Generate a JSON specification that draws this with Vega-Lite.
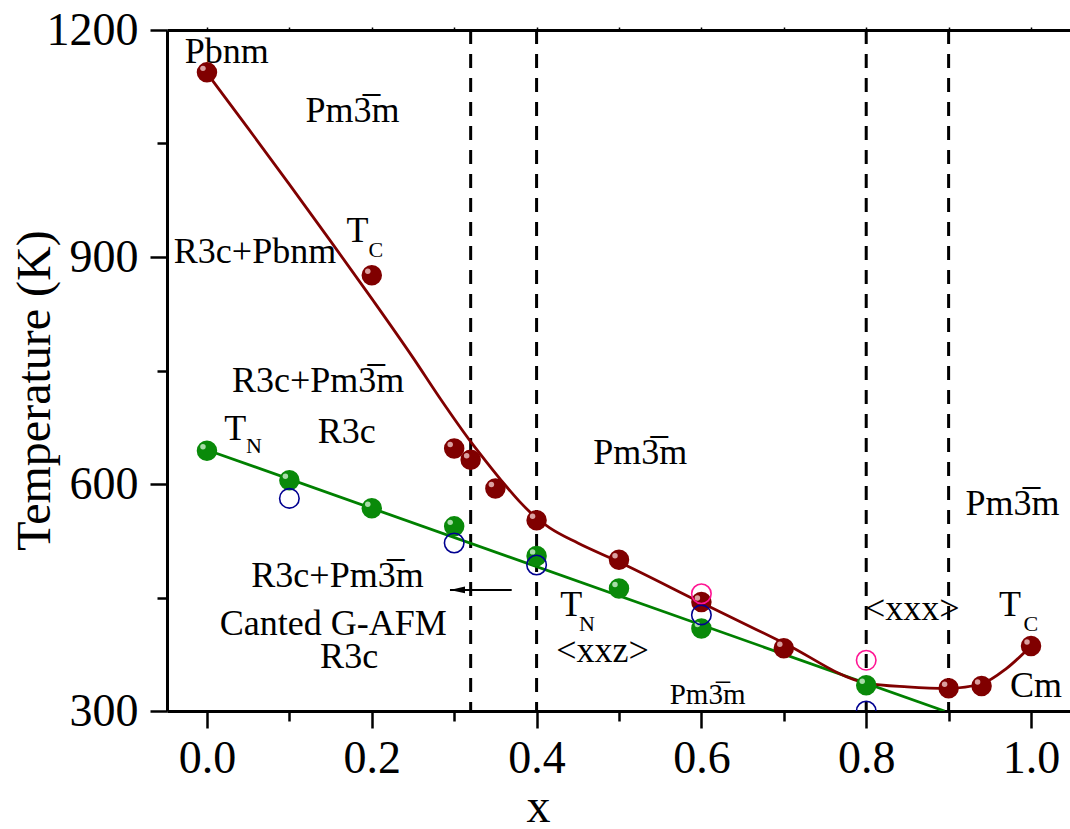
{
  "$schema": "https://vega.github.io/schema/vega-lite/v6.json",
  "width": 903,
  "height": 681,
  "autosize": {"type": "none"},
  "padding": {"left": 167, "top": 30, "right": 0, "bottom": 118},
  "background": "white",
  "config": {
    "view": {"stroke": null},
    "font": "Liberation Serif",
    "style": {"guide-title": {"font": "Liberation Serif", "fontWeight": "normal"}, "guide-label": {"font": "Liberation Serif"}},
    "axis": {"grid": false, "domainColor": "black", "tickColor": "black", "labelColor": "black", "titleColor": "black", "labelFont": "Liberation Serif", "titleFont": "Liberation Serif", "titleFontWeight": "normal", "domainWidth": 3, "tickWidth": 2.5, "labelFlush": false, "labelOverlap": false}
  },
  "datasets": {
    "vlines": [{"x": 0.32}, {"x": 0.4}, {"x": 0.8}, {"x": 0.9}],
    "tnline": [{"x": 0, "T": 645}, {"x": 0.895, "T": 300}],
    "tccurve": [
      {"x": 0, "T": 1143}, {"x": 0.05, "T": 1070}, {"x": 0.1, "T": 996}, {"x": 0.15, "T": 921}, {"x": 0.2, "T": 845},
      {"x": 0.25, "T": 767}, {"x": 0.283, "T": 713}, {"x": 0.32, "T": 656}, {"x": 0.34, "T": 628}, {"x": 0.36, "T": 601},
      {"x": 0.38, "T": 576}, {"x": 0.4, "T": 555}, {"x": 0.416, "T": 542}, {"x": 0.45, "T": 522}, {"x": 0.5, "T": 497},
      {"x": 0.6, "T": 443}, {"x": 0.7, "T": 390}, {"x": 0.8, "T": 337}, {"x": 0.85, "T": 332}, {"x": 0.9, "T": 330},
      {"x": 0.94, "T": 336}, {"x": 0.97, "T": 356}, {"x": 1.0, "T": 386}
    ],
    "tc": [
      {"x": 0, "T": 1144}, {"x": 0.2, "T": 876}, {"x": 0.3, "T": 647}, {"x": 0.32, "T": 632}, {"x": 0.35, "T": 594},
      {"x": 0.4, "T": 552}, {"x": 0.5, "T": 500}, {"x": 0.6, "T": 444}, {"x": 0.7, "T": 383}, {"x": 0.9, "T": 330},
      {"x": 0.94, "T": 333}, {"x": 1.0, "T": 386}
    ],
    "tn": [
      {"x": 0, "T": 644}, {"x": 0.1, "T": 605}, {"x": 0.2, "T": 568}, {"x": 0.3, "T": 544}, {"x": 0.4, "T": 505},
      {"x": 0.5, "T": 462}, {"x": 0.6, "T": 409}, {"x": 0.8, "T": 334}
    ],
    "blue": [{"x": 0.1, "T": 581}, {"x": 0.3, "T": 522}, {"x": 0.4, "T": 493}, {"x": 0.6, "T": 427}, {"x": 0.8, "T": 300}],
    "pink": [{"x": 0.6, "T": 455}, {"x": 0.8, "T": 367}],
    "arrow": [{"x": 0.2949, "x2": 0.3698, "T": 460}],
    "arrowhead": [{"x": 0.304, "T": 460}],
    "bigtext": [
      {"x": 0.024, "T": 1157, "text": "Pbnm"},
      {"x": 0.1766, "T": 1079, "text": "Pm3\u0305m"},
      {"x": 0.0583, "T": 892, "text": "R3c+Pbnm"},
      {"x": 0.1826, "T": 920, "text": "T"},
      {"x": 0.135, "T": 722, "text": "R3c+Pm3\u0305m"},
      {"x": 0.0344, "T": 658, "text": "T"},
      {"x": 0.1695, "T": 654, "text": "R3c"},
      {"x": 0.1584, "T": 464, "text": "R3c+Pm3\u0305m"},
      {"x": 0.1533, "T": 400.5, "text": "Canted G-AFM"},
      {"x": 0.1725, "T": 356.5, "text": "R3c"},
      {"x": 0.5257, "T": 627, "text": "Pm3\u0305m"},
      {"x": 0.442, "T": 425, "text": "T"},
      {"x": 0.48, "T": 365, "text": "<xxz>"},
      {"x": 0.856, "T": 420, "text": "<xxx>"},
      {"x": 0.9775, "T": 559, "text": "Pm3\u0305m"},
      {"x": 0.9745, "T": 426, "text": "T"},
      {"x": 1.006, "T": 319, "text": "Cm"}
    ],
    "subtext": [
      {"x": 0.2049, "T": 900, "text": "C"},
      {"x": 0.057, "T": 641, "text": "N"},
      {"x": 0.461, "T": 406, "text": "N"},
      {"x": 0.9998, "T": 406, "text": "C"}
    ],
    "smalltext": [{"x": 0.6075, "T": 309, "text": "Pm3\u0305m"}]
  },
  "resolve": {"axis": {"x": "independent", "y": "independent"}},
  "layer": [
    {
      "data": {"name": "vlines"},
      "mark": {"type": "rule", "color": "black", "strokeWidth": 3, "strokeDash": [14, 10]},
      "encoding": {
        "x": {"field": "x", "type": "quantitative", "scale": {"domain": [-0.0485, 1.0473], "nice": false, "zero": false}, "axis": null}
      }
    },
    {
      "data": {"name": "tnline"},
      "mark": {"type": "line", "color": "#008000", "strokeWidth": 2.8, "clip": true},
      "encoding": {
        "x": {"field": "x", "type": "quantitative", "scale": {"domain": [-0.0485, 1.0473], "nice": false, "zero": false},
              "axis": {"orient": "top", "values": [0, 0.1, 0.2, 0.3, 0.4, 0.5, 0.6, 0.7, 0.8, 0.9, 1.0], "tickSize": 3, "tickWidth": 1.5, "labels": false, "title": null}},
        "y": {"field": "T", "type": "quantitative", "scale": {"domain": [300, 1200], "nice": false, "zero": false}, "axis": null}
      }
    },
    {
      "data": {"name": "tccurve"},
      "mark": {"type": "line", "color": "#800000", "strokeWidth": 2.8, "interpolate": "monotone"},
      "encoding": {
        "x": {"field": "x", "type": "quantitative", "scale": {"domain": [-0.0485, 1.0473], "nice": false, "zero": false},
              "axis": {"orient": "bottom", "values": [0.1, 0.3, 0.5, 0.7, 0.9], "tickSize": 10, "labels": false, "domain": false, "title": null}},
        "y": {"field": "T", "type": "quantitative", "scale": {"domain": [300, 1200], "nice": false, "zero": false},
              "axis": {"orient": "left", "values": [450, 750, 1050], "tickSize": 10, "labels": false, "domain": false, "title": null}}
      }
    },
    {
      "data": {"name": "tc"},
      "mark": {"type": "point", "shape": "circle", "filled": true, "size": 420, "color": "#800000", "opacity": 1},
      "encoding": {
        "x": {"field": "x", "type": "quantitative", "scale": {"domain": [-0.0485, 1.0473], "nice": false, "zero": false},
              "axis": {"orient": "bottom", "values": [0, 0.2, 0.4, 0.6, 0.8, 1.0], "format": ".1f", "tickSize": 17, "labelFont": "Liberation Serif", "labelFontSize": 46, "labelPadding": 8,
                       "title": "x", "titleFont": "Liberation Serif", "titleFontWeight": "normal", "titleFontSize": 48, "titleX": 371, "titleY": 110, "titleBaseline": "alphabetic", "titleAlign": "center"}},
        "y": {"field": "T", "type": "quantitative", "scale": {"domain": [300, 1200], "nice": false, "zero": false},
              "axis": {"orient": "left", "values": [300, 600, 900, 1200], "format": "d", "tickSize": 17, "labelFont": "Liberation Serif", "labelFontSize": 46, "labelPadding": 12,
                       "title": "Temperature (K)", "titleFont": "Liberation Serif", "titleFontWeight": "normal", "titleFontSize": 48, "titleAngle": -90, "titleX": -132, "titleY": 360, "titleAlign": "center", "titleBaseline": "middle"}}
      }
    },
    {
      "data": {"name": "tn"},
      "mark": {"type": "point", "shape": "circle", "filled": true, "size": 420, "color": "#0a8a0a", "opacity": 1},
      "encoding": {
        "x": {"field": "x", "type": "quantitative", "scale": {"domain": [-0.0485, 1.0473], "nice": false, "zero": false}, "axis": null},
        "y": {"field": "T", "type": "quantitative", "scale": {"domain": [300, 1200], "nice": false, "zero": false}, "axis": null}
      }
    },
    {
      "data": {"name": "tc"},
      "mark": {"type": "point", "shape": "circle", "filled": true, "size": 30, "color": "#f0c8c8", "opacity": 0.8, "xOffset": -4, "yOffset": -4},
      "encoding": {
        "x": {"field": "x", "type": "quantitative", "scale": {"domain": [-0.0485, 1.0473], "nice": false, "zero": false}, "axis": null},
        "y": {"field": "T", "type": "quantitative", "scale": {"domain": [300, 1200], "nice": false, "zero": false}, "axis": null}
      }
    },
    {
      "data": {"name": "tn"},
      "mark": {"type": "point", "shape": "circle", "filled": true, "size": 30, "color": "#d0f0d0", "opacity": 0.8, "xOffset": -4, "yOffset": -4},
      "encoding": {
        "x": {"field": "x", "type": "quantitative", "scale": {"domain": [-0.0485, 1.0473], "nice": false, "zero": false}, "axis": null},
        "y": {"field": "T", "type": "quantitative", "scale": {"domain": [300, 1200], "nice": false, "zero": false}, "axis": null}
      }
    },
    {
      "data": {"name": "blue"},
      "mark": {"type": "point", "shape": "circle", "filled": false, "size": 380, "color": "#000090", "strokeWidth": 1.6, "opacity": 1, "clip": true},
      "encoding": {
        "x": {"field": "x", "type": "quantitative", "scale": {"domain": [-0.0485, 1.0473], "nice": false, "zero": false}, "axis": null},
        "y": {"field": "T", "type": "quantitative", "scale": {"domain": [300, 1200], "nice": false, "zero": false}, "axis": null}
      }
    },
    {
      "data": {"name": "pink"},
      "mark": {"type": "point", "shape": "circle", "filled": false, "size": 380, "color": "#ff1493", "strokeWidth": 1.6, "opacity": 1},
      "encoding": {
        "x": {"field": "x", "type": "quantitative", "scale": {"domain": [-0.0485, 1.0473], "nice": false, "zero": false}, "axis": null},
        "y": {"field": "T", "type": "quantitative", "scale": {"domain": [300, 1200], "nice": false, "zero": false}, "axis": null}
      }
    },
    {
      "data": {"name": "arrow"},
      "mark": {"type": "rule", "color": "black", "strokeWidth": 2},
      "encoding": {
        "x": {"field": "x", "type": "quantitative", "scale": {"domain": [-0.0485, 1.0473], "nice": false, "zero": false}, "axis": null},
        "x2": {"field": "x2"},
        "y": {"field": "T", "type": "quantitative", "scale": {"domain": [300, 1200], "nice": false, "zero": false}, "axis": null}
      }
    },
    {
      "data": {"name": "arrowhead"},
      "mark": {"type": "point", "shape": "M -1 0 L 1 -0.45 L 1 0.45 Z", "filled": true, "size": 225, "color": "black", "opacity": 1},
      "encoding": {
        "x": {"field": "x", "type": "quantitative", "scale": {"domain": [-0.0485, 1.0473], "nice": false, "zero": false}, "axis": null},
        "y": {"field": "T", "type": "quantitative", "scale": {"domain": [300, 1200], "nice": false, "zero": false}, "axis": null}
      }
    },
    {
      "data": {"name": "bigtext"},
      "mark": {"type": "text", "font": "Liberation Serif", "fontSize": 36, "color": "black", "align": "center", "baseline": "alphabetic"},
      "encoding": {
        "x": {"field": "x", "type": "quantitative", "scale": {"domain": [-0.0485, 1.0473], "nice": false, "zero": false}, "axis": null},
        "y": {"field": "T", "type": "quantitative", "scale": {"domain": [300, 1200], "nice": false, "zero": false}, "axis": null},
        "text": {"field": "text"}
      }
    },
    {
      "data": {"name": "subtext"},
      "mark": {"type": "text", "font": "Liberation Serif", "fontSize": 22, "color": "black", "align": "center", "baseline": "alphabetic"},
      "encoding": {
        "x": {"field": "x", "type": "quantitative", "scale": {"domain": [-0.0485, 1.0473], "nice": false, "zero": false}, "axis": null},
        "y": {"field": "T", "type": "quantitative", "scale": {"domain": [300, 1200], "nice": false, "zero": false}, "axis": null},
        "text": {"field": "text"}
      }
    },
    {
      "data": {"name": "smalltext"},
      "mark": {"type": "text", "font": "Liberation Serif", "fontSize": 29, "color": "black", "align": "center", "baseline": "alphabetic"},
      "encoding": {
        "x": {"field": "x", "type": "quantitative", "scale": {"domain": [-0.0485, 1.0473], "nice": false, "zero": false}, "axis": null},
        "y": {"field": "T", "type": "quantitative", "scale": {"domain": [300, 1200], "nice": false, "zero": false}, "axis": null},
        "text": {"field": "text"}
      }
    }
  ]
}
